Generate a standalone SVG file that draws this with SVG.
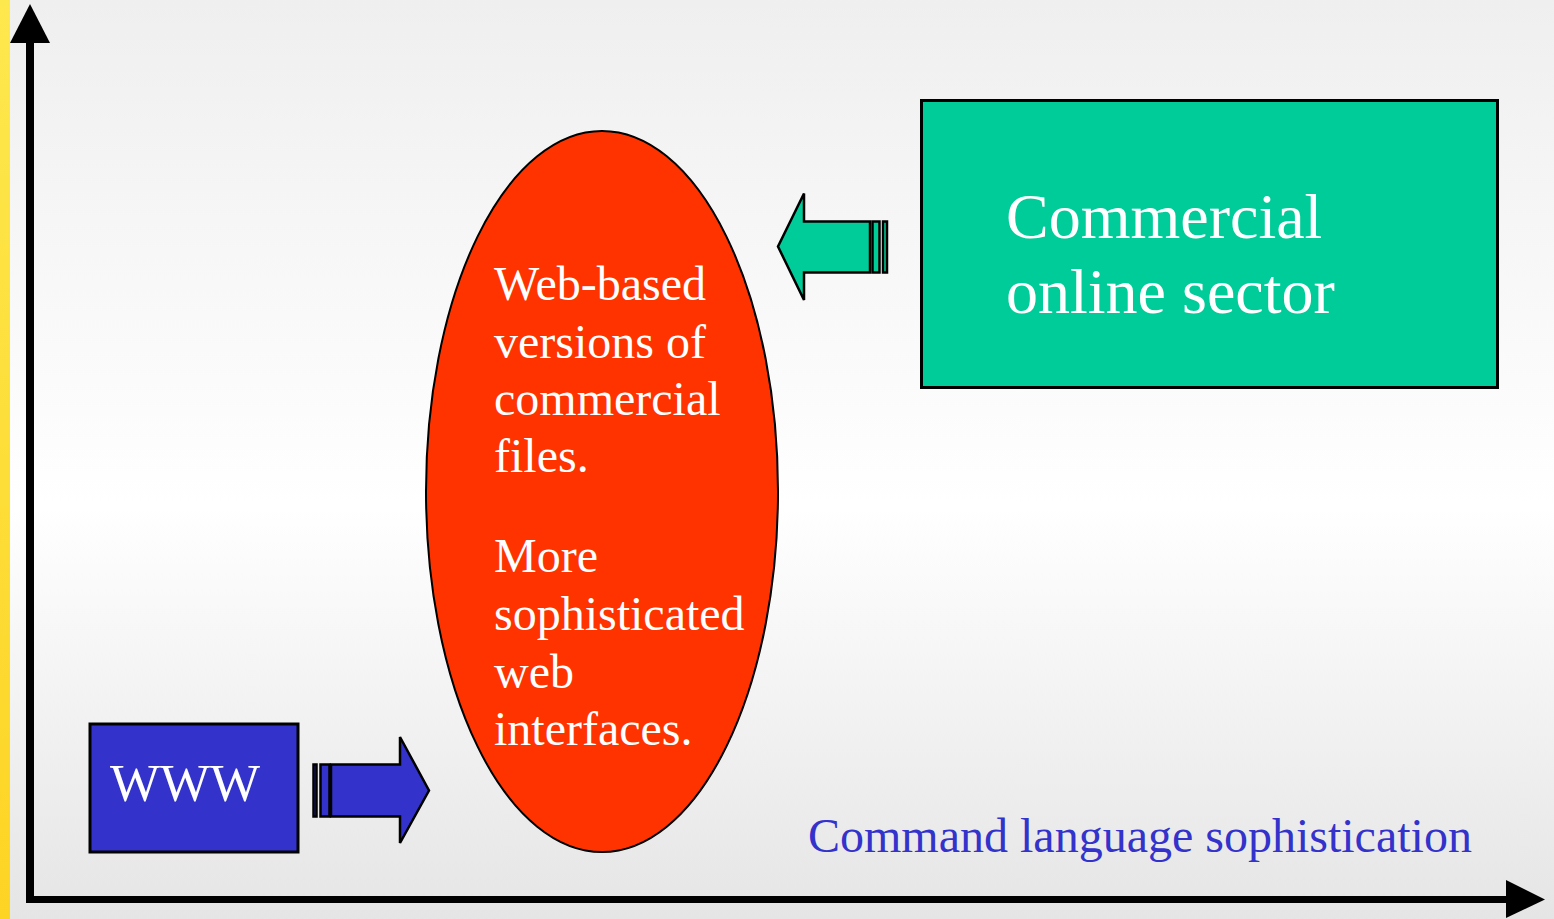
<svg xmlns="http://www.w3.org/2000/svg" width="1554" height="919" viewBox="0 0 1554 919">
<defs>
<linearGradient id="bg" x1="0" y1="0" x2="0" y2="1">
<stop offset="0" stop-color="#efefef"/>
<stop offset="0.55" stop-color="#ffffff"/>
<stop offset="1" stop-color="#e5e5e5"/>
</linearGradient>
<linearGradient id="yel" x1="0" y1="0" x2="0" y2="1">
<stop offset="0" stop-color="#fde84e"/>
<stop offset="1" stop-color="#fdd424"/>
</linearGradient>
<style>
.serif{font-family:"Liberation Serif","Times New Roman",serif;}
.w{fill:#ffffff;}
.box{stroke:#000;stroke-width:3;}
.arr{stroke:#000;stroke-width:2.5;stroke-linejoin:miter;}
</style>
</defs>
<rect x="0" y="0" width="1554" height="919" fill="url(#bg)"/>
<rect x="0" y="0" width="10" height="919" fill="url(#yel)"/>
<g id="axes">
<rect x="26" y="40" width="8" height="863" fill="#000"/>
<polygon points="30,4 50,43 10,43" fill="#000"/>
<rect x="26" y="896" width="1482" height="7" fill="#000"/>
<polygon points="1545,899.5 1506,880 1506,918" fill="#000"/>
</g>
<g id="sector">
<rect x="921.5" y="100.5" width="576" height="287" fill="#00cc99" class="box"/>
<text class="serif w" font-size="64"><tspan x="1006" y="238">Commercial</tspan><tspan x="1006" y="313">online sector</tspan></text>
</g>
<g id="www">
<rect x="90" y="724" width="208" height="128" fill="#3333cc" class="box"/>
<text class="serif w" font-size="53" x="110" y="801">WWW</text>
</g>
<g id="web">
<ellipse cx="602" cy="491.5" rx="176" ry="360.5" fill="#ff3300" stroke="#000" stroke-width="2"/>
<text class="serif w" font-size="48"><tspan x="494" y="300">Web-based</tspan><tspan x="494" y="358">versions of</tspan><tspan x="494" y="415">commercial</tspan><tspan x="494" y="472">files.</tspan><tspan x="494" y="572">More</tspan><tspan x="494" y="630">sophisticated</tspan><tspan x="494" y="688">web</tspan><tspan x="494" y="745">interfaces.</tspan></text>
</g>
<g id="connectors">
<g fill="#3333cc" class="arr">
<rect x="313.5" y="764.5" width="3" height="52"/>
<rect x="320.5" y="764.5" width="9" height="52"/>
<polygon points="331,764.5 400,764.5 400,737 429,790.5 400,843 400,816.5 331,816.5"/>
</g>
<g fill="#00cc99" class="arr">
<rect x="883" y="221.5" width="4" height="51"/>
<rect x="872.5" y="221.5" width="7" height="51"/>
<polygon points="870,221.5 804,221.5 804,193.5 778,246.5 804,300 804,272.5 870,272.5"/>
</g>
</g>
<text class="serif" font-size="48" fill="#3333cc" x="808" y="852">Command language sophistication</text>
</svg>
